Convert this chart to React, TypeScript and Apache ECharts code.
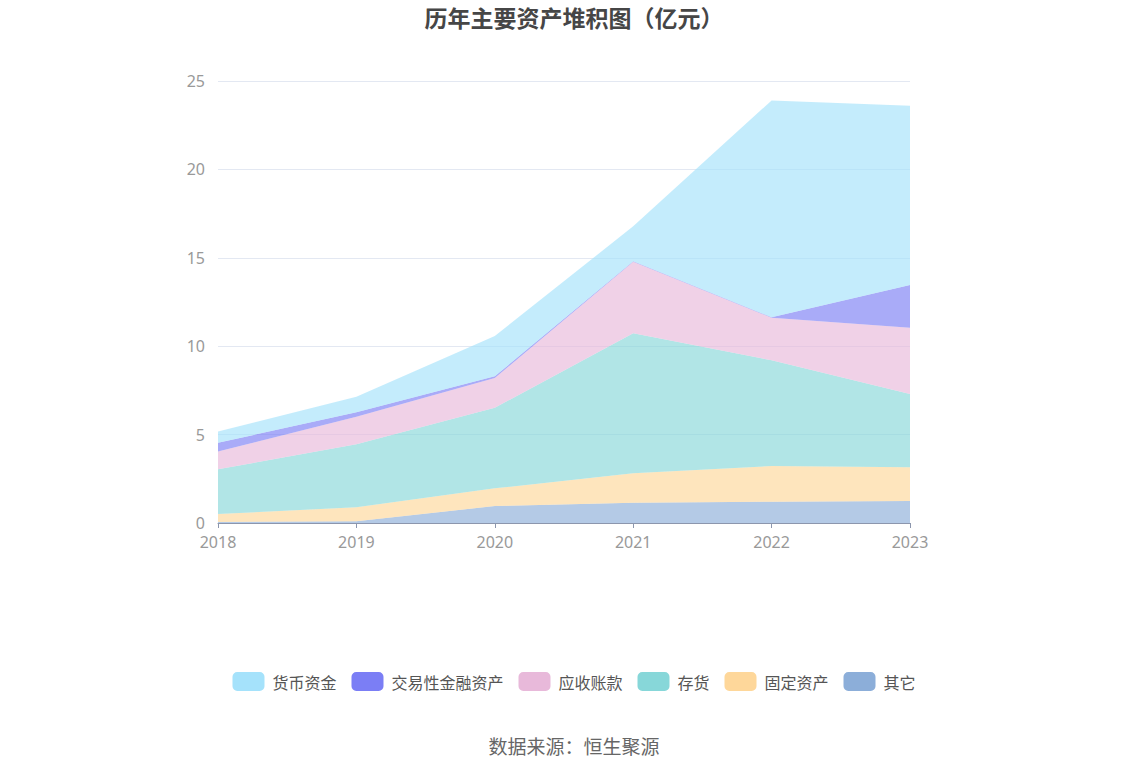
import React, { useEffect, useRef } from "react";
import * as echarts from "echarts";

const years = ["2018", "2019", "2020", "2021", "2022", "2023"];
const seriesNames = ["货币资金", "交易性金融资产", "应收账款", "存货", "固定资产", "其它"];
const colors = ["#a5e2fb", "#7b7ef5", "#e8b9da", "#87d7d9", "#fed79a", "#8caed9"];

const other = [0.06, 0.1, 0.96, 1.15, 1.2, 1.24];
const fixedAssets = [0.45, 0.79, 1.0, 1.66, 2.02, 1.91];
const inventory = [2.53, 3.56, 4.56, 7.92, 5.98, 4.15];
const receivables = [1.01, 1.56, 1.68, 4.05, 2.41, 3.75];
const tradingAssets = [0.49, 0.25, 0.1, 0.02, 0.03, 2.41];
const cash = [0.63, 0.88, 2.28, 1.98, 12.26, 10.14];

export default function App() {
  const ref = useRef<HTMLDivElement>(null);
  useEffect(() => {
    document.body.style.margin = "0";
    const chart = echarts.init(ref.current!, null, { renderer: "svg" });
    const stackOrder = [
      { name: "其它", data: other, color: colors[5] },
      { name: "固定资产", data: fixedAssets, color: colors[4] },
      { name: "存货", data: inventory, color: colors[3] },
      { name: "应收账款", data: receivables, color: colors[2] },
      { name: "交易性金融资产", data: tradingAssets, color: colors[1] },
      { name: "货币资金", data: cash, color: colors[0] },
    ];
    chart.setOption({
      animation: false,
      title: {
        text: "历年主要资产堆积图（亿元）",
        left: "center",
        top: 0,
        textStyle: { fontSize: 23, fontWeight: "bold", color: "#464646", fontFamily: "Noto Sans CJK SC" },
      },
      legend: {
        data: seriesNames,
        bottom: 80,
        left: "center",
        itemWidth: 32,
        itemHeight: 19,
        itemGap: 15,
        icon: "roundRect",
        textStyle: { fontSize: 16, color: "#555", fontFamily: "Noto Sans CJK SC", padding: [0, 0, 0, 3] },
      },
      graphic: [
        {
          type: "text",
          left: "center",
          top: 736,
          style: { text: "数据来源：恒生聚源", fontSize: 19, fill: "#666", fontFamily: "Noto Sans CJK SC" },
        },
      ],
      grid: { left: 218, right: 238, top: 81, bottom: 253 },
      xAxis: {
        type: "category",
        data: years,
        boundaryGap: false,
        axisLine: { lineStyle: { color: "#8c96ad" } },
        axisTick: { show: true, lineStyle: { color: "#8c96ad" } },
        axisLabel: { fontSize: 16, color: "#999", margin: 11, fontFamily: "Noto Sans" },
      },
      yAxis: {
        type: "value",
        min: 0,
        max: 25,
        interval: 5,
        axisLine: { show: false },
        axisTick: { show: false },
        axisLabel: { fontSize: 16, color: "#999", margin: 13, fontFamily: "Noto Sans" },
        splitLine: { lineStyle: { color: "#e3e8f2" } },
      },
      color: colors,
      series: stackOrder.map((s) => ({
        name: s.name,
        type: "line",
        stack: "total",
        data: s.data,
        symbol: "none",
        lineStyle: { width: 0 },
        itemStyle: { color: s.color },
        areaStyle: { color: s.color, opacity: 0.65 },
      })),
    });
    return () => chart.dispose();
  }, []);
  return <div ref={ref} style={{ width: 1148, height: 776 }} />;
}
